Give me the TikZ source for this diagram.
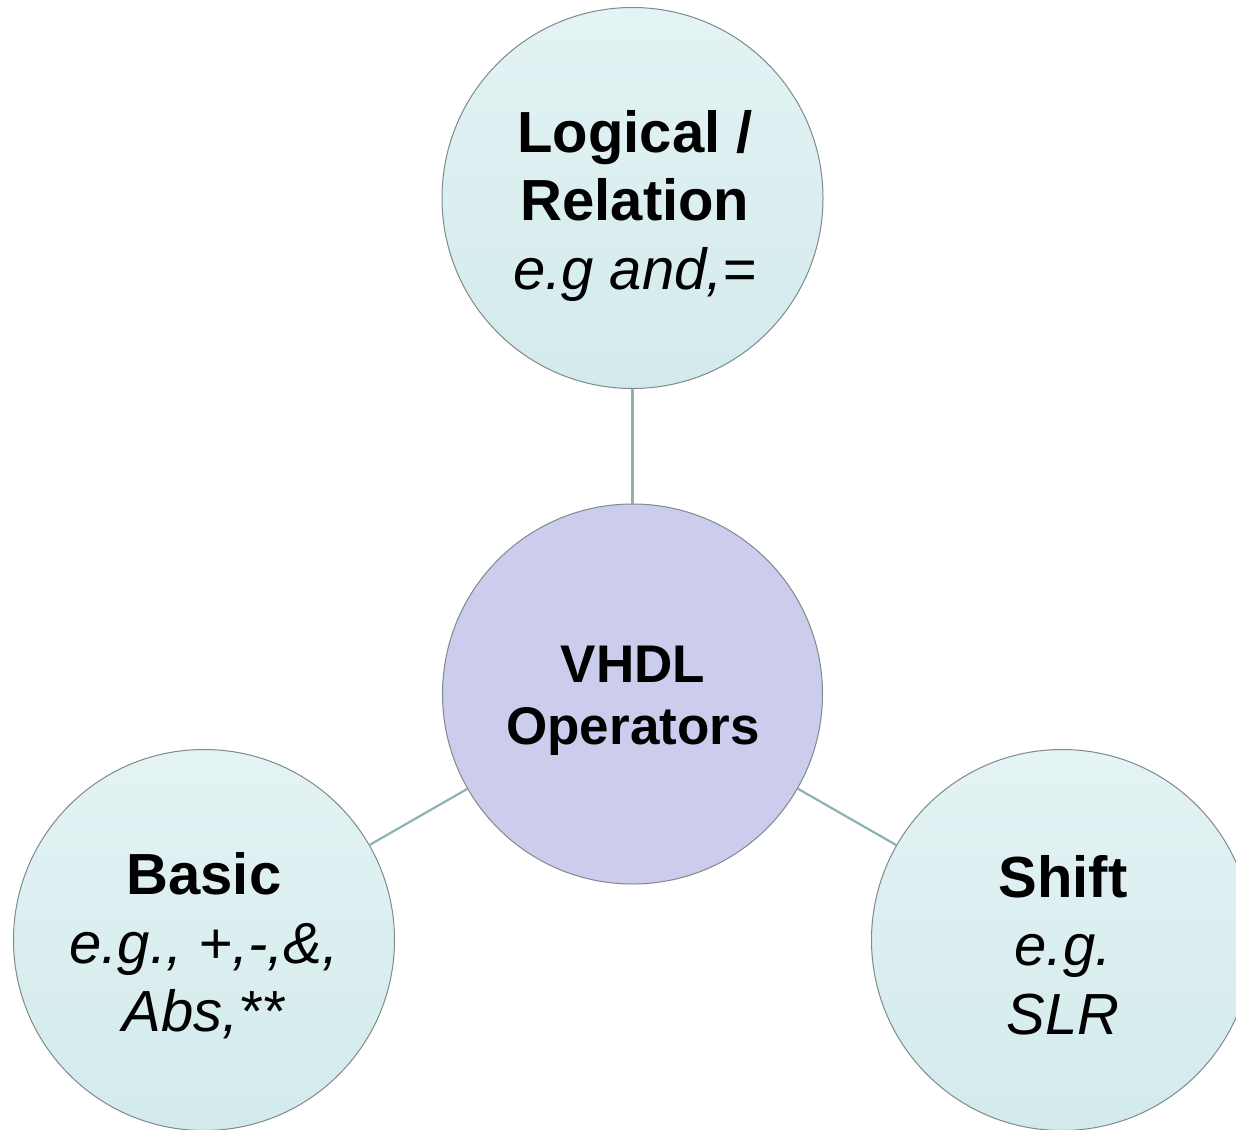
\documentclass[tikz,border=0pt]{standalone}
\usepackage{fontspec}
\setmainfont{Liberation Sans}
\definecolor{outerTop}{HTML}{E4F3F4}
\definecolor{outerBot}{HTML}{D3EAEC}
\definecolor{centerFill}{HTML}{CCCDEC}
\definecolor{rimGray}{HTML}{7E8A8C}
\definecolor{linkTeal}{HTML}{8DB2B4}
\begin{document}
\begin{tikzpicture}[x=1pt,y=-1pt,
  bubble/.style={circle, minimum size=381pt, inner sep=0pt, draw=rimGray, line width=1pt,
    top color=outerTop, bottom color=outerBot},
  hub/.style={circle, minimum size=380pt, inner sep=0pt, draw=rimGray, line width=1pt,
    fill=centerFill},
  outtxt/.style={align=center, inner sep=0pt, font=\fontsize{58}{68.5}\selectfont},
  hubtxt/.style={align=center, inner sep=0pt, font=\fontsize{53}{62}\selectfont},
  link/.style={draw=linkTeal, line width=2.2pt}]
\useasboundingbox (0,0) rectangle (1236,1129);
\fill[white] (0,0) rectangle (1236,1129);
\node[hub] (c) at (632.5,694) {};
\node[bubble] (t) at (632.5,198) {};
\node[bubble] (l) at (204,940) {};
\node[bubble] (r) at (1062,940) {};
\node[hubtxt] (ct) at (633,701) {\textbf{VHDL}\\\textbf{Operators}};
\node[outtxt] (tt) at (635,206) {\textbf{Logical /}\\\textbf{Relation}\\\textit{e.g and,=}};
\node[outtxt] (lt) at (204,946) {\textbf{Basic}\\\textit{e.g., +,-,\&,}\\\textit{Abs,**}};
\node[outtxt] (rt) at (1063,945) {\textbf{Shift}\\\textit{e.g.}\\\textit{SLR}};
\draw[link] (t) -- (c);
\draw[link] (c) -- (l);
\draw[link] (c) -- (r);
\end{tikzpicture}
\end{document}
